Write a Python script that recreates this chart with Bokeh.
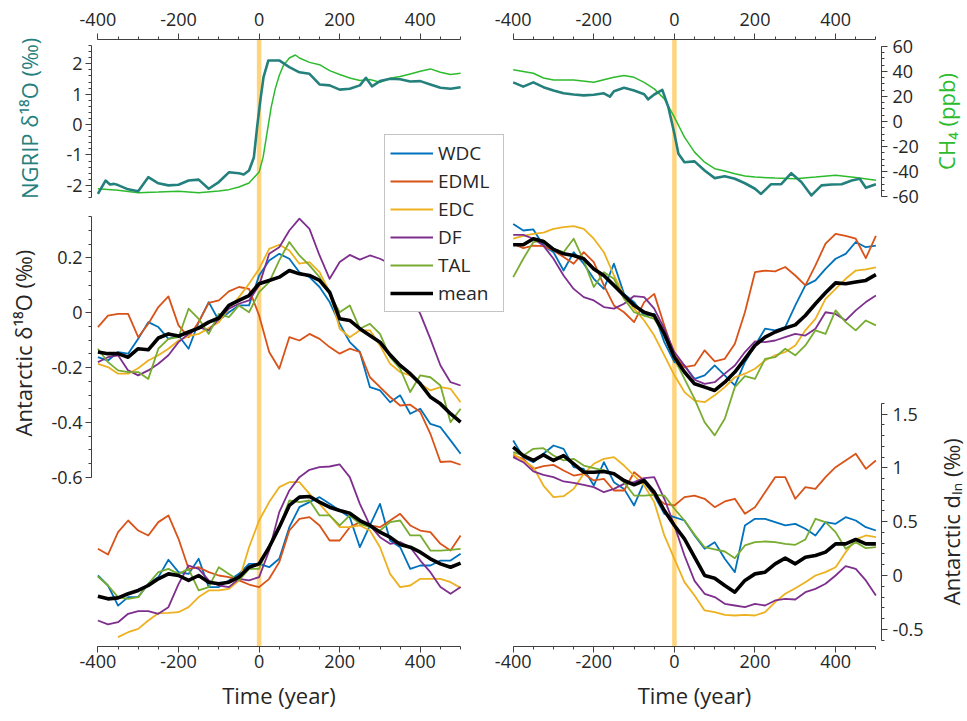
import numpy as np
from bokeh.plotting import figure
from bokeh.models import (Range1d, LinearAxis, FixedTicker, Legend, LegendItem,
                          CustomJSTickFormatter, Label)
from bokeh.embed import file_html
from bokeh.resources import INLINE

nan = float("nan")

# ---------------- data ----------------
T = [-400, -375, -350, -325, -300, -275, -250, -225, -200, -175, -150, -125, -100,
     -75, -50, -25, 0, 25, 50, 75, 100, 125, 150, 175, 200, 225, 250, 275, 300,
     325, 350, 375, 400, 425, 450, 475, 500]

# NGRIP d18O and CH4, warming (left) and cooling (right)
NG_L_T = [-400, -381, -370, -360, -350, -325, -300, -275, -250, -225, -200, -175, -150, -125, -100,
          -75, -50, -38, -25, -13, -5, 3, 11, 23, 50, 75, 100, 125, 150, 175, 200, 225, 250, 265, 280,
          300, 325, 350, 375, 400, 425, 450, 475, 500]
NG_L = [-2.28, -1.84, -1.97, -1.95, -1.99, -2.13, -2.19, -1.73, -1.93, -2.00, -1.98, -1.84, -1.81, -2.11, -1.89,
        -1.57, -1.60, -1.64, -1.51, -1.08, -0.09, 0.79, 1.56, 2.11, 2.11, 1.89, 1.72, 1.67, 1.32, 1.29, 1.15,
        1.18, 1.29, 1.54, 1.26, 1.43, 1.51, 1.49, 1.42, 1.43, 1.32, 1.21, 1.18, 1.23]
CH_L_T = [-400, -350, -300, -250, -200, -150, -100, -75, -50, -25, 0, 10, 20, 30, 40, 50, 60, 75, 90, 100,
          125, 150, 175, 200, 225, 250, 275, 300, 325, 350, 375, 400, 425, 450, 475, 500]
CH_L = [-53.5, -54.8, -56.7, -56.2, -55.6, -56.7, -55.3, -54.3, -52.2, -49.0, -40.3, -28.4, -8.5, 11.4, 26.0,
        36.6, 44.5, 50.6, 53.0, 50.6, 47.1, 45.3, 40.5, 37.4, 34.7, 32.6, 33.4, 31.2, 34.4, 35.8, 37.9, 40.0,
        41.9, 39.2, 37.4, 38.4]
NG_R_T = [-400, -375, -350, -325, -300, -275, -250, -225, -200, -175, -160, -150, -125, -100, -75, -65, -50,
          -30, -15, 0, 10, 25, 50, 75, 100, 125, 150, 175, 200, 215, 240, 265, 290, 315, 340, 365, 390, 415,
          440, 460, 475, 500]
NG_R = [1.39, 1.25, 1.39, 1.23, 1.12, 1.03, 0.99, 0.96, 0.98, 1.03, 0.92, 1.10, 1.21, 1.12, 1.00, 0.83, 0.99,
        1.14, 0.57, -0.30, -0.96, -1.24, -1.21, -1.51, -1.76, -1.70, -1.78, -1.93, -2.11, -2.28, -1.96, -1.96,
        -1.60, -1.89, -2.33, -2.00, -1.97, -1.96, -1.84, -1.78, -2.08, -1.96]
CH_R_T = [-400, -350, -325, -300, -250, -200, -150, -125, -100, -75, -50, -25, 0, 25, 50, 75, 100, 125, 150,
          175, 200, 250, 300, 350, 400, 450, 500]
CH_R = [41.3, 38.4, 34.7, 33.1, 33.1, 31.2, 35.2, 36.6, 35.2, 31.2, 26.0, 18.0, 3.4, -12.5, -24.4, -32.4,
        -37.6, -39.5, -41.6, -43.5, -44.3, -45.1, -45.6, -44.3, -42.9, -44.7, -46.8]

# Antarctic d18O, left (warming) panel
WDC_L18 = [-0.162, -0.174, -0.143, -0.149, -0.095, -0.034, -0.052, -0.095, -0.083, -0.131, -0.034, 0.039, -0.028,
           0.002, 0.027, 0.027, 0.136, 0.191, 0.215, 0.197, 0.148, 0.130, 0.094, 0.039, -0.040, -0.107, -0.143,
           -0.271, -0.283, -0.326, -0.301, -0.368, -0.350, -0.405, -0.417, -0.465, -0.514]
EDML_L18 = [-0.052, -0.010, -0.004, -0.004, -0.089, -0.040, 0.021, 0.060, -0.046, -0.089, -0.034, 0.036, 0.045,
            0.078, 0.094, 0.087, -0.010, -0.143, -0.204, -0.089, -0.101, -0.077, -0.095, -0.125, -0.149, -0.131,
            -0.143, -0.235, -0.271, -0.307, -0.338, -0.335, -0.362, -0.441, -0.544, -0.542, -0.554]
EDC_L18 = [-0.186, -0.198, -0.222, -0.222, -0.202, -0.174, -0.155, -0.131, -0.101, -0.085, -0.077, -0.056, -0.034,
           0.015, 0.057, 0.106, 0.160, 0.233, 0.248, 0.227, 0.179, 0.185, 0.148, 0.075, -0.058, -0.089, -0.064,
           -0.064, -0.119, -0.186, -0.216, -0.228, -0.259, -0.283, -0.271, -0.277, -0.326]
DF_L18 = [-0.180, -0.162, -0.155, -0.210, -0.228, -0.210, -0.186, -0.155, -0.107, -0.077, -0.052, -0.064, -0.022,
          0.015, 0.033, 0.045, 0.100, 0.215, 0.239, 0.300, 0.343, 0.306, 0.209, 0.124, 0.185, 0.211, 0.194, 0.209,
          0.197, 0.179, 0.142, 0.063, -0.004, -0.095, -0.192, -0.253, -0.265]
TAL_L18 = [-0.131, -0.180, -0.210, -0.216, -0.216, -0.241, -0.131, -0.095, -0.089, 0.015, -0.022, -0.077, -0.004,
           -0.016, 0.027, 0.002, 0.075, 0.112, 0.191, 0.258, 0.209, 0.173, 0.130, 0.069, 0.002, 0.027, -0.058,
           -0.040, -0.077, -0.162, -0.204, -0.289, -0.228, -0.235, -0.265, -0.399, -0.350]
MEAN_L18 = [-0.143, -0.149, -0.149, -0.162, -0.131, -0.135, -0.092, -0.077, -0.085, -0.070, -0.056, -0.034, -0.019,
            0.027, 0.045, 0.063, 0.106, 0.118, 0.130, 0.154, 0.142, 0.136, 0.118, 0.075, -0.022, -0.028, -0.058,
            -0.083, -0.107, -0.153, -0.192, -0.222, -0.259, -0.307, -0.332, -0.368, -0.399]

# Antarctic d18O, right (cooling) panel
WDC_R18 = [0.324, 0.300, 0.304, 0.245, 0.221, 0.154, 0.221, 0.179, 0.124, 0.087, 0.179, 0.069, 0.039, -0.010,
           -0.004, -0.107, -0.180, -0.192, -0.241, -0.228, -0.192, -0.228, -0.265, -0.180, -0.119, -0.058, -0.064,
           -0.052, 0.027, 0.100, 0.118, 0.160, 0.197, 0.215, 0.258, 0.239, 0.245]
EDML_R18 = [0.252, 0.236, 0.245, 0.243, 0.227, 0.203, 0.179, 0.221, 0.185, 0.100, 0.027, 0.002, -0.034, 0.039,
            0.069, -0.046, -0.155, -0.198, -0.192, -0.137, -0.177, -0.168, -0.113, 0.002, 0.148, 0.154, 0.151,
            0.167, 0.136, 0.100, 0.173, 0.252, 0.288, 0.280, 0.270, 0.199, 0.280]
EDC_R18 = [0.270, 0.280, 0.288, 0.292, 0.306, 0.312, 0.316, 0.306, 0.270, 0.221, 0.136, 0.063, 0.015, -0.028,
           -0.083, -0.155, -0.228, -0.289, -0.320, -0.326, -0.301, -0.271, -0.235, -0.222, -0.204, -0.174, -0.155,
           -0.143, -0.119, -0.064, -0.022, 0.051, 0.087, 0.124, 0.154, 0.158, 0.166]
DF_R18 = [0.284, 0.284, 0.270, 0.245, 0.197, 0.136, 0.087, 0.057, 0.045, 0.021, 0.015, 0.033, 0.061, 0.057, 0.015,
          -0.058, -0.143, -0.192, -0.244, -0.259, -0.253, -0.222, -0.192, -0.143, -0.104, -0.107, -0.101, -0.089,
          -0.077, -0.083, -0.058, 0.002, -0.004, -0.028, 0.009, 0.039, 0.063]
TAL_R18 = [0.130, 0.197, 0.258, 0.264, 0.233, 0.221, 0.270, 0.191, 0.094, 0.148, 0.124, 0.051, 0.002, -0.010,
           -0.022, -0.083, -0.168, -0.241, -0.314, -0.399, -0.447, -0.386, -0.271, -0.231, -0.241, -0.168, -0.162,
           -0.131, -0.155, -0.119, -0.064, -0.077, 0.009, -0.034, -0.064, -0.028, -0.046]
MEAN_R18 = [0.248, 0.248, 0.270, 0.260, 0.231, 0.215, 0.209, 0.197, 0.160, 0.136, 0.100, 0.063, 0.027, 0.002,
            -0.010, -0.077, -0.162, -0.216, -0.259, -0.271, -0.283, -0.253, -0.216, -0.168, -0.119, -0.089, -0.070,
            -0.056, -0.044, -0.010, 0.033, 0.073, 0.109, 0.106, 0.112, 0.118, 0.139]

# Antarctic d_ln, left panel
WDC_LN = [0.000, -0.093, -0.280, -0.201, -0.201, -0.077, -0.015, 0.146, 0.031, 0.015, 0.155, -0.108, -0.108,
          -0.046, 0.015, 0.108, 0.108, 0.077, 0.155, 0.449, 0.635, 0.682, 0.728, 0.666, 0.604, 0.542, 0.263, 0.465,
          0.666, 0.325, 0.263, 0.062, 0.093, 0.093, 0.139, 0.139, 0.201]
EDML_LN = [0.248, 0.195, 0.403, 0.511, 0.418, 0.372, 0.496, 0.558, 0.341, 0.062, 0.077, 0.031, 0.000, -0.015,
           -0.046, -0.084, -0.108, -0.031, 0.124, 0.418, 0.527, 0.542, 0.465, 0.325, 0.325, 0.449, 0.496, 0.465,
           0.449, 0.511, 0.573, 0.465, 0.418, 0.403, 0.294, 0.232, 0.372]
EDC_LN = [nan, nan, -0.573, -0.527, -0.496, -0.418, -0.350, -0.347, -0.341, -0.294, -0.201, -0.139, -0.139,
          -0.124, -0.046, 0.263, 0.511, 0.682, 0.821, 0.867, 0.867, 0.759, 0.666, 0.558, 0.449, 0.449, 0.465, 0.418,
          0.263, 0.015, -0.108, -0.093, -0.031, -0.031, -0.031, -0.062, -0.115]
DF_LN = [-0.418, -0.455, -0.434, -0.356, -0.331, -0.331, -0.356, -0.294, -0.080, 0.093, 0.062, -0.046, -0.093,
         -0.108, -0.031, -0.046, -0.015, 0.232, 0.589, 0.790, 0.914, 0.982, 1.007, 1.013, 1.032, 0.914, 0.666,
         0.465, 0.356, 0.294, 0.310, 0.263, 0.139, 0.031, -0.108, -0.170, -0.108]
TAL_LN = [-0.009, -0.093, -0.201, -0.217, -0.201, -0.077, 0.031, 0.062, 0.015, 0.062, -0.139, -0.108, 0.077, 0.015,
          -0.046, 0.062, 0.062, 0.279, 0.449, 0.697, 0.682, 0.697, 0.558, 0.558, 0.465, 0.558, 0.480, 0.449, 0.418,
          0.496, 0.511, 0.372, 0.372, 0.232, 0.232, 0.238, 0.248]
MEAN_LN = [-0.192, -0.217, -0.208, -0.170, -0.139, -0.093, -0.031, 0.015, 0.000, -0.046, 0.000, -0.062, -0.077,
           -0.062, -0.015, 0.077, 0.108, 0.263, 0.449, 0.651, 0.728, 0.734, 0.682, 0.635, 0.604, 0.579, 0.511,
           0.465, 0.403, 0.356, 0.288, 0.263, 0.217, 0.155, 0.108, 0.077, 0.115]

# Antarctic d_ln, right panel
WDC_RN = [1.255, 1.100, 1.053, 1.131, 1.208, 1.177, 1.007, 0.991, 0.836, 1.053, 0.867, 0.805, 0.651, 0.867, 0.743,
          0.573, 0.542, 0.511, 0.372, 0.248, 0.310, 0.155, 0.031, 0.465, 0.527, 0.527, 0.496, 0.465, 0.480, 0.434,
          0.372, 0.496, 0.480, 0.542, 0.511, 0.449, 0.418]
EDML_RN = [1.115, 1.084, 0.991, 1.016, 1.028, 0.976, 0.929, 0.945, 0.883, 0.898, 0.790, 0.790, 0.960, 0.883,
           0.743, 0.666, 0.651, 0.728, 0.743, 0.713, 0.635, 0.688, 0.713, 0.573, 0.635, 0.774, 0.914, 0.914, 0.713,
           0.821, 0.805, 0.914, 1.007, 1.069, 1.131, 0.991, 1.069]
EDC_RN = [1.131, 1.069, 1.007, 0.836, 0.728, 0.737, 0.805, 0.945, 1.038, 1.084, 1.100, 1.022, 0.929, 0.836, 0.682,
          0.372, 0.155, -0.062, -0.186, -0.325, -0.341, -0.366, -0.372, -0.366, -0.372, -0.341, -0.248, -0.170,
          -0.118, -0.062, 0.000, 0.031, 0.077, 0.217, 0.335, 0.372, 0.356]
DF_RN = [1.100, 1.053, 0.967, 0.936, 0.914, 0.874, 0.861, 0.843, 0.821, 0.774, 0.805, 0.852, 0.867, 0.905, 0.914,
         0.713, 0.465, 0.186, -0.050, -0.170, -0.201, -0.263, -0.279, -0.294, -0.263, -0.279, -0.232, -0.217,
         -0.223, -0.155, -0.124, -0.077, 0.000, 0.087, 0.062, -0.046, -0.186]
TAL_RN = [1.146, 1.115, 1.177, 1.183, 1.115, 1.069, 1.084, 1.022, 0.998, 0.976, 0.945, 0.867, 0.743, 0.743, 0.750,
          0.743, 0.620, 0.511, 0.380, 0.263, 0.242, 0.223, 0.161, 0.279, 0.310, 0.316, 0.310, 0.294, 0.285, 0.335,
          0.527, 0.496, 0.403, 0.248, 0.310, 0.254, 0.263]
MEAN_RN = [1.193, 1.115, 1.069, 1.121, 1.069, 1.115, 1.038, 0.960, 0.960, 0.967, 0.945, 0.883, 0.843, 0.883, 0.774,
           0.604, 0.465, 0.341, 0.170, 0.000, -0.025, -0.093, -0.155, -0.046, 0.015, 0.031, 0.108, 0.161, 0.108,
           0.170, 0.186, 0.217, 0.294, 0.294, 0.335, 0.294, 0.294]

SITES = ["WDC", "EDML", "EDC", "DF", "TAL", "mean"]
EVENT_T = [0]

# tick values
X_MAJOR = [-400, -200, 0, 200, 400]
NG_MAJOR = [-2, -1, 0, 1, 2]
D18_MAJOR = [-0.6, -0.4, -0.2, 0, 0.2]
CH_MAJOR = [-60, -40, -20, 0, 20, 40, 60]
DLN_MAJOR = [-0.5, 0, 0.5, 1, 1.5]

# ---------------- styling / layout ----------------
FONT = "Open Sans"
TXT = "#262626"
AXC = "#404040"
COLORS = ["#0072BD", "#D95319", "#EDB120", "#7E2F8E", "#77AC30", "#000000"]
WIDTHS = [1.8, 1.8, 1.8, 1.8, 1.8, 3.6]
TEAL = "#24807C"
GREEN = "#2DBB2D"
BAND = "#FFD47F"

# the frame covers the whole canvas; ranges are set so that panels sit where they should
L_RANGE = (-641.7, 1757.8)
R_RANGE = (-1672.2, 727.3)
NG_RANGE = (-19.635, 4.082)
CH_RANGE = (-478.09, 96.41)
D18_RANGE = (-1.490, 1.1385)
DLN_RANGE = (-1.357, 5.344)
# axis positions (left/right edges in x units, bottom/top in d18O units)
L_EDGE = -415.9
R_EDGE = 513.9
TOP_EDGE = 0.9964
BOT_EDGE = -1.2165

p = figure(width=967, height=721, output_backend="svg", toolbar_location=None,
           x_range=Range1d(*L_RANGE), y_range=Range1d(*D18_RANGE),
           x_axis_location=None, y_axis_location=None,
           min_border_left=0, min_border_right=0, min_border_top=0, min_border_bottom=0)
p.extra_x_ranges = {"R": Range1d(*R_RANGE)}
p.extra_y_ranges = {"ng": Range1d(*NG_RANGE), "ch": Range1d(*CH_RANGE), "dln": Range1d(*DLN_RANGE)}
p.outline_line_color = None
p.background_fill_color = "white"
p.border_fill_color = "white"
p.xgrid.visible = False
p.ygrid.visible = False

FMT_CODE = "return String(Math.round(tick*1000)/1000);"


def add_axis(side, xr, yr, loc, bounds, major, minor, label=None, tick_standoff=3, label_standoff=8):
    ax = LinearAxis(x_range_name=xr, y_range_name=yr, fixed_location=loc, bounds=bounds,
                    ticker=FixedTicker(ticks=major, minor_ticks=minor),
                    formatter=CustomJSTickFormatter(code=FMT_CODE))
    ax.axis_line_color = AXC
    ax.axis_line_width = 1
    ax.major_tick_line_color = AXC
    ax.minor_tick_line_color = AXC
    ax.major_tick_out = 6
    ax.major_tick_in = 0
    ax.minor_tick_out = 3
    ax.minor_tick_in = 0
    ax.major_label_text_font = FONT
    ax.major_label_text_font_size = "18px"
    ax.major_label_text_color = TXT
    ax.major_label_standoff = tick_standoff
    if label:
        ax.axis_label = label
        ax.axis_label_text_font = FONT
        ax.axis_label_text_font_size = "22px"
        ax.axis_label_text_font_style = "normal"
        ax.axis_label_text_color = TXT
        ax.axis_label_standoff = label_standoff
    p.add_layout(ax, side)
    return ax


x_minor = list(np.arange(-400, 501, 50))
add_axis("above", "default", "default", TOP_EDGE, (-400, 500), X_MAJOR, x_minor, tick_standoff=7)
add_axis("above", "R", "default", TOP_EDGE, (-400, 500), X_MAJOR, x_minor, tick_standoff=7)
add_axis("below", "default", "default", BOT_EDGE, (-400, 500), X_MAJOR, x_minor, "Time (year)",
         tick_standoff=3, label_standoff=8)
add_axis("below", "R", "default", BOT_EDGE, (-400, 500), X_MAJOR, x_minor, "Time (year)",
         tick_standoff=3, label_standoff=8)
add_axis("left", "default", "ng", L_EDGE, (-2.4, 2.6), NG_MAJOR,
         list(np.round(np.arange(-2.4, 2.61, 0.2), 2)))
add_axis("left", "default", "default", L_EDGE, (-0.6, 0.35), D18_MAJOR,
         list(np.round(np.arange(-0.6, 0.351, 0.05), 3)))
add_axis("right", "R", "ch", R_EDGE, (-60, 60), CH_MAJOR, list(np.arange(-60, 61, 5)), tick_standoff=5)
add_axis("right", "R", "dln", R_EDGE, (-0.6, 1.6), DLN_MAJOR,
         list(np.round(np.arange(-0.6, 1.61, 0.1), 2)), tick_standoff=5)


# y-axis titles
def ylab(text, x, y, xr, yr, xoff, color):
    p.add_layout(Label(x=x, y=y, x_range_name=xr, y_range_name=yr, x_offset=xoff, text=text,
                       angle=90, angle_units="deg", text_align="center", text_baseline="middle",
                       text_font=FONT, text_font_size="22px", text_color=color))


ylab("NGRIP  δ¹⁸O (‰)", L_EDGE, 0.3, "default", "ng", -62, TEAL)
ylab("Antarctic  δ¹⁸O (‰)", L_EDGE, -0.1, "default", "default", -68, TXT)
ylab("CH₄ (ppb)", R_EDGE, 0, "R", "ch", 65, GREEN)
ylab("Antarctic dₗₙ (‰)", R_EDGE, 0.5, "R", "dln", 70, TXT)

# event marker (spans the panel height)
for xr in ("default", "R"):
    p.segment(x0=EVENT_T, x1=EVENT_T, y0=[TOP_EDGE], y1=[BOT_EDGE], x_range_name=xr,
              line_color=BAND, line_width=4.5)

# NGRIP and CH4
p.line(CH_L_T, CH_L, x_range_name="default", y_range_name="ch", line_color=GREEN, line_width=1.5)
p.line(NG_L_T, NG_L, x_range_name="default", y_range_name="ng", line_color=TEAL, line_width=2.6,
       line_join="round")
p.line(CH_R_T, CH_R, x_range_name="R", y_range_name="ch", line_color=GREEN, line_width=1.5)
p.line(NG_R_T, NG_R, x_range_name="R", y_range_name="ng", line_color=TEAL, line_width=2.6,
       line_join="round")

panels = [
    ("default", "default", [WDC_L18, EDML_L18, EDC_L18, DF_L18, TAL_L18, MEAN_L18]),
    ("R", "default", [WDC_R18, EDML_R18, EDC_R18, DF_R18, TAL_R18, MEAN_R18]),
    ("default", "dln", [WDC_LN, EDML_LN, EDC_LN, DF_LN, TAL_LN, MEAN_LN]),
    ("R", "dln", [WDC_RN, EDML_RN, EDC_RN, DF_RN, TAL_RN, MEAN_RN]),
]
legend_renderers = None
for xr, yr, series in panels:
    rs = []
    for vals, col, w in zip(series, COLORS, WIDTHS):
        r = p.line(np.array(T, dtype=float), np.array(vals, dtype=float), x_range_name=xr, y_range_name=yr,
                   line_color=col, line_width=w, line_join="round")
        rs.append(r)
    if legend_renderers is None:
        legend_renderers = rs

legend = Legend(items=[LegendItem(label=s, renderers=[r]) for s, r in zip(SITES, legend_renderers)],
                location=(384, 409), orientation="vertical")
legend.label_text_font = FONT
legend.label_text_font_size = "19px"
legend.label_text_color = TXT
legend.glyph_width = 43
legend.glyph_height = 20
legend.label_height = 20
legend.label_width = 60
legend.label_standoff = 5
legend.spacing = 2
legend.padding = 5
legend.margin = 0
legend.border_line_color = "#8a8a8a"
legend.border_line_width = 1
legend.background_fill_color = "white"
legend.background_fill_alpha = 1.0
p.add_layout(legend)

open("out.html", "w").write(file_html(p, INLINE))
